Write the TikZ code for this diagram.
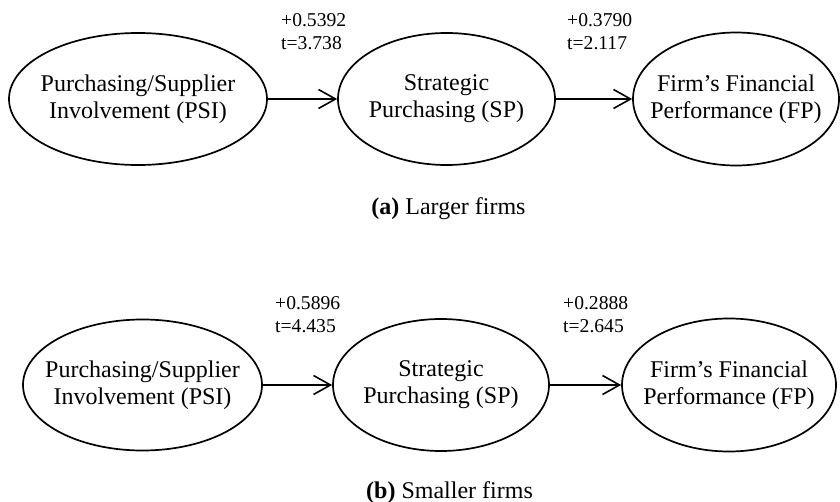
\documentclass[tikz,border=0pt]{standalone}
\usepackage{fontspec}
\setmainfont{Liberation Serif}
\usetikzlibrary{shapes.geometric,arrows.meta}
\begin{document}
\begin{tikzpicture}[x=1pt,y=-1pt,
  construct/.style={ellipse, draw, line width=1.7pt, inner sep=0pt},
  ctext/.style={align=center, inner sep=0pt, font=\fontsize{24}{27}\selectfont},
  coef/.style={anchor=west, align=left, inner sep=0pt, font=\fontsize{19.6}{23}\selectfont},
  caption/.style={anchor=base, inner sep=0pt, font=\fontsize{24}{27}\selectfont},
  path/.style={line width=1.6pt, -{Straight Barb[length=17pt,width=19pt,line width=1.6pt]}}
]
\useasboundingbox (0,0) rectangle (840,502);
% (a) Larger firms
\node[construct, minimum width=258pt, minimum height=132pt] (a1) at (138,99) {};
\node[ctext] (ta1) at (a1.center) {Purchasing/Supplier\\Involvement (PSI)};
\node[construct, minimum width=217pt, minimum height=132pt] (a2) at (446.5,99) {};
\node[ctext] (ta2) at (a2.center) {Strategic\\Purchasing (SP)};
\node[construct, minimum width=206pt, minimum height=133pt] (a3) at (736,99) {};
\node[ctext] (ta3) at (a3.center) {Firm’s Financial\\Performance (FP)};
\draw[path] (a1.east) -- (a2.west);
\draw[path] (a2.east) -- (a3.west);
\node[coef] (la1) at (281,31.5) {+0.5392\\t=3.738};
\node[coef] (la2) at (567,31.5) {+0.3790\\t=2.117};
\node[caption] (capa) at (448.5,215) {\textbf{(a)} Larger firms};
% (b) Smaller firms
\node[construct, minimum width=239pt, minimum height=131pt] (b1) at (142.5,385) {};
\node[ctext] (tb1) at (b1.center) {Purchasing/Supplier\\Involvement (PSI)};
\node[construct, minimum width=216pt, minimum height=132pt] (b2) at (441,385) {};
\node[ctext] (tb2) at (b2.center) {Strategic\\Purchasing (SP)};
\node[construct, minimum width=214pt, minimum height=133pt] (b3) at (729,385) {};
\node[ctext] (tb3) at (b3.center) {Firm’s Financial\\Performance (FP)};
\draw[path] (b1.east) -- (b2.west);
\draw[path] (b2.east) -- (b3.west);
\node[coef] (lb1) at (275,314.5) {+0.5896\\t=4.435};
\node[coef] (lb2) at (563,314.5) {+0.2888\\t=2.645};
\node[caption] (capb) at (449.5,498) {\textbf{(b)} Smaller firms};
\end{tikzpicture}
\end{document}
